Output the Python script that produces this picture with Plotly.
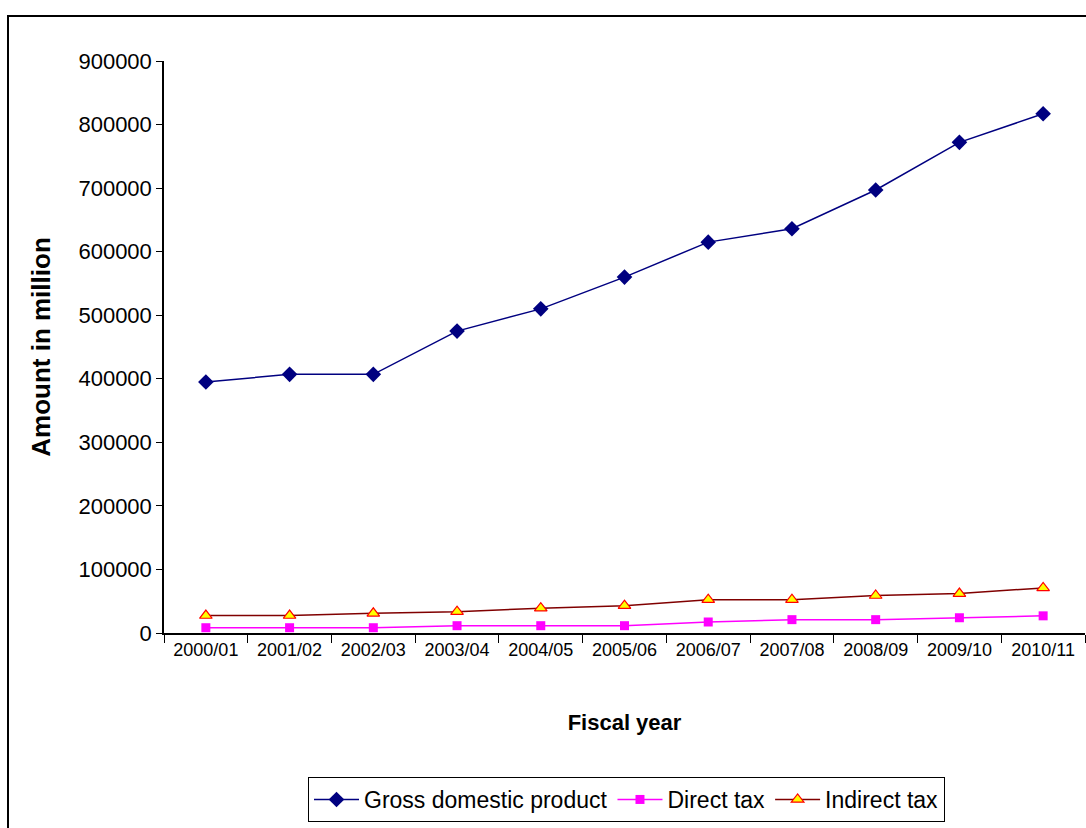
import plotly.graph_objects as go

# Fiscal years and series values (Rs. million)
years = ["2000/01", "2001/02", "2002/03", "2003/04", "2004/05", "2005/06",
         "2006/07", "2007/08", "2008/09", "2009/10", "2010/11"]
gdp = [395000, 407000, 407000, 475000, 510000, 560000,
       615000, 636000, 697000, 772000, 817000]
direct_tax = [8300, 8300, 8300, 11500, 11500, 11500,
              17300, 21000, 21000, 24000, 27000]
indirect_tax = [27500, 27500, 31000, 33500, 39000, 43000,
                52500, 52500, 59000, 62000, 71000]

y_ticks = list(range(0, 900001, 100000))

sans = "Liberation Sans, Arial"

fig = go.Figure()
fig.add_trace(go.Scatter(
    x=years, y=gdp, name="Gross domestic product", mode="lines+markers",
    line=dict(color="#000080", width=1.5),
    marker=dict(symbol="diamond", size=12, color="#000080")))
fig.add_trace(go.Scatter(
    x=years, y=direct_tax, name="Direct tax", mode="lines+markers",
    line=dict(color="#FF00FF", width=1.5),
    marker=dict(symbol="square", size=9, color="#FF00FF")))
fig.add_trace(go.Scatter(
    x=years, y=indirect_tax, name="Indirect tax", mode="lines+markers",
    line=dict(color="#800000", width=1.5),
    marker=dict(symbol="triangle-up", size=11, color="#FFFF00",
                line=dict(color="#FF0000", width=1.2))))

L, R, T, B = 164, 1, 61, 195
W, H = 1086, 828
pw, ph = W - L - R, H - T - B

# outer chart frame
fig.add_shape(type="rect", xref="paper", yref="paper",
              x0=(8 - L) / pw, x1=(W + 5 - L) / pw,
              y0=-(H + 5 - T - ph) / ph, y1=1 + (T - 16) / ph,
              line=dict(color="black", width=2), layer="below")

fig.update_layout(
    width=W, height=H,
    margin=dict(l=L, r=R, t=T, b=B),
    paper_bgcolor="white", plot_bgcolor="white",
    showlegend=True,
    legend=dict(orientation="h", x=(308 - L) / pw, y=-(777 - T - ph) / ph,
                xanchor="left", yanchor="top",
                bordercolor="black", borderwidth=1,
                font=dict(family=sans, size=23, color="black"),
                itemwidth=45, tracegroupgap=0),
    xaxis=dict(
        type="category", range=[-0.5, len(years) - 0.5],
        showline=True, linecolor="black", linewidth=1.5,
        ticks="outside", ticklen=8, tickcolor="black", tickson="boundaries",
        showgrid=False, zeroline=False,
        tickfont=dict(family=sans, size=18, color="black"),
        title=dict(text="<b>Fiscal year</b>", standoff=55,
                   font=dict(family=sans, size=22, color="black"))),
    yaxis=dict(
        range=[0, 900000], tickmode="array", tickvals=y_ticks,
        ticktext=[str(v) for v in y_ticks],
        showline=True, linecolor="black", linewidth=1.5,
        ticks="outside", ticklen=6, tickcolor="black",
        showgrid=False, zeroline=False,
        tickfont=dict(family=sans, size=22, color="black"),
        title=dict(text="<b>Amount in million</b>", standoff=20,
                   font=dict(family=sans, size=26, color="black"))),
)

fig.write_html("out.html")
